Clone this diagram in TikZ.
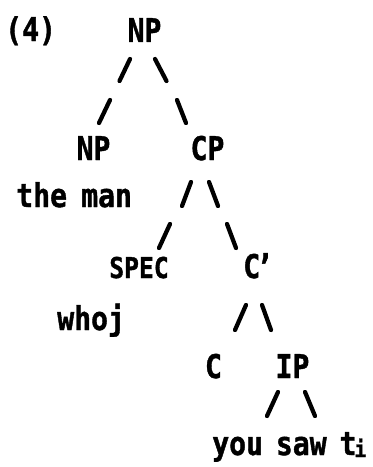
\documentclass[tikz,border=0pt]{standalone}
\usepackage{fontspec}
\setmainfont{DejaVu Sans Mono}[FakeStretch=0.86,BoldFeatures={FakeBold=1.2}]

\begin{document}
\begin{tikzpicture}[x=0.75pt,y=0.75pt,yscale=-1,xscale=1,
  lbl/.style={anchor=base,inner sep=0.75pt,font=\fontsize{24.5}{26}\selectfont\bfseries},
  spec/.style={lbl,font=\fontsize{21.5}{23}\selectfont\bfseries},
  stroke/.style={line width=3.2pt,line cap=round}]
\useasboundingbox (0,0) rectangle (373,467);

% Text Node
\node [lbl,anchor=base west] (num) at (4,41) {(4)};
% Text Node
\node [lbl] (np) at (144.5,42) {NP};
% Text Node
\node [lbl] (npl) at (93.5,160) {NP};
% Text Node
\node [lbl] (cp) at (207.5,160) {CP};
% Text Node
\node [lbl,anchor=base west] (man) at (15,207) {the\hspace{-2pt} man};
% Text Node
\node [spec] (specnode) at (139,278) {SPEC};
% Text Node
\node [lbl,anchor=base west] (cbar) at (242,278) {C\kern-3pt'};
% Text Node
\node [lbl,anchor=base west] (who) at (56,330) {whoj};
% Text Node
\node [lbl,anchor=base west] (saw) at (211,455) {you\hspace{-3pt} saw\hspace{-3pt} t\kern-1.5pt\raisebox{-1.5pt}{\fontsize{17}{18}\selectfont i}};
% Text Node
\node [lbl] (c) at (213.5,378) {C};
% Text Node
\node [lbl] (ip) at (292.5,378) {IP};

%Straight Lines
\draw [stroke] (119.5,81) -- (130,59) ;
\draw [stroke] (155,59) -- (166.5,81) ;
%Straight Lines
\draw [stroke] (99,123) -- (110,100) ;
\draw [stroke] (177,100) -- (186,123) ;
%Straight Lines
\draw [stroke] (182,206) -- (191,182) ;
\draw [stroke] (209,182) -- (218,206) ;
%Straight Lines
\draw [stroke] (159,248) -- (170,224) ;
\draw [stroke] (227,224) -- (236,248) ;
%Straight Lines
\draw [stroke] (235,330) -- (246,305) ;
\draw [stroke] (262,305) -- (271,330) ;
%Straight Lines
\draw [stroke] (267,416) -- (278,392) ;
\draw [stroke] (305,392) -- (315,416) ;

\end{tikzpicture}
\end{document}
